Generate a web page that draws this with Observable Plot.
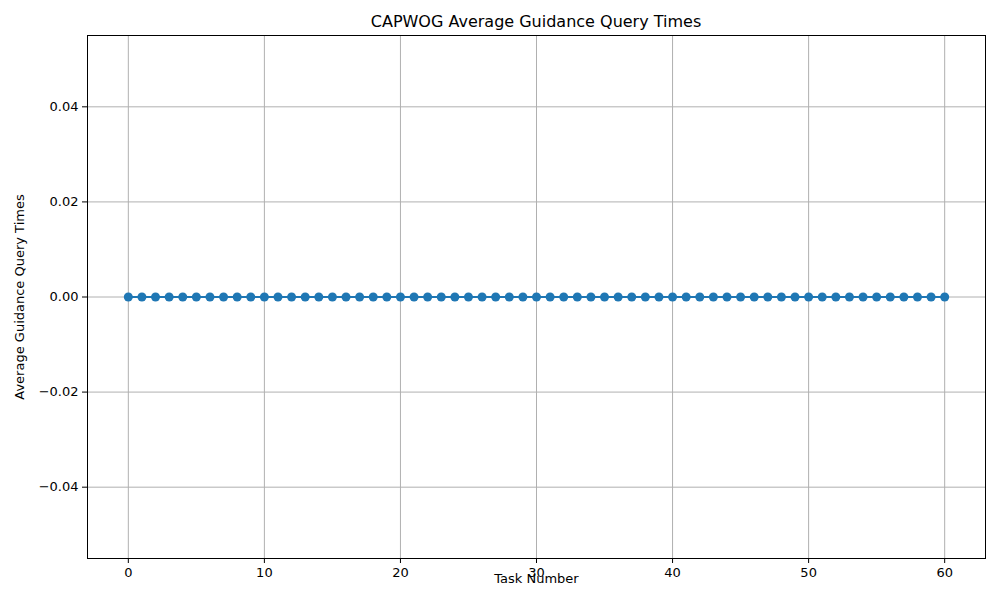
<!DOCTYPE html>
<html><head><meta charset="utf-8">
<script src="https://cdn.jsdelivr.net/npm/d3@7"></script>
<script src="https://cdn.jsdelivr.net/npm/@observablehq/plot@0.6"></script>
<style>
body{margin:0;background:#fff;font-family:"DejaVu Sans",sans-serif}
#title{height:30px;width:1000px;text-align:center;font-size:16px;line-height:44px;margin-left:36px}
</style></head><body>
<div id="title">CAPWOG Average Guidance Query Times</div>
<div id="chart"></div>
<script>
const tasks = [0,1,2,3,4,5,6,7,8,9,10,11,12,13,14,15,16,17,18,19,20,21,22,23,24,25,26,27,28,29,30,31,32,33,34,35,36,37,38,39,40,41,42,43,44,45,46,47,48,49,50,51,52,53,54,55,56,57,58,59,60]
const queryTimes = [0,0,0,0,0,0,0,0,0,0,0,0,0,0,0,0,0,0,0,0,0,0,0,0,0,0,0,0,0,0,0,0,0,0,0,0,0,0,0,0,0,0,0,0,0,0,0,0,0,0,0,0,0,0,0,0,0,0,0,0,0]
const xTicks = [0,10,20,30,40,50,60]
const yTicks = [-0.04,-0.02,0,0.02,0.04]

const data = tasks.map((t, i) => ({task: t, value: queryTimes[i]}))
const fmt = v => (v < 0 ? "\u2212" : "") + Math.abs(v).toFixed(2)

const chart = Plot.plot({
  width: 1000, height: 570,
  marginLeft: 87, marginRight: 15, marginTop: 5, marginBottom: 42,
  style: {fontFamily: "DejaVu Sans, sans-serif", fontSize: "13px", color: "#000"},
  x: {domain: [-3, 63], ticks: xTicks, tickSize: 5, label: "Task Number", labelAnchor: "center", labelArrow: "none", labelOffset: 24},
  y: {domain: [-0.055, 0.055], ticks: yTicks, tickFormat: fmt, tickSize: 5, label: "Average Guidance Query Times", labelAnchor: "center", labelArrow: "none", labelOffset: 73},
  marks: [
    Plot.gridX(xTicks, {stroke: "#b0b0b0", strokeOpacity: 1, strokeWidth: 1}),
    Plot.gridY(yTicks, {stroke: "#b0b0b0", strokeOpacity: 1, strokeWidth: 1}),
    Plot.frame({stroke: "#000"}),
    Plot.line(data, {x: "task", y: "value", stroke: "#1f77b4", strokeWidth: 2}),
    Plot.dot(data, {x: "task", y: "value", fill: "#1f77b4", r: 4.5})
  ]
})
d3.select('#chart').append(() => chart)
</script></body></html>
